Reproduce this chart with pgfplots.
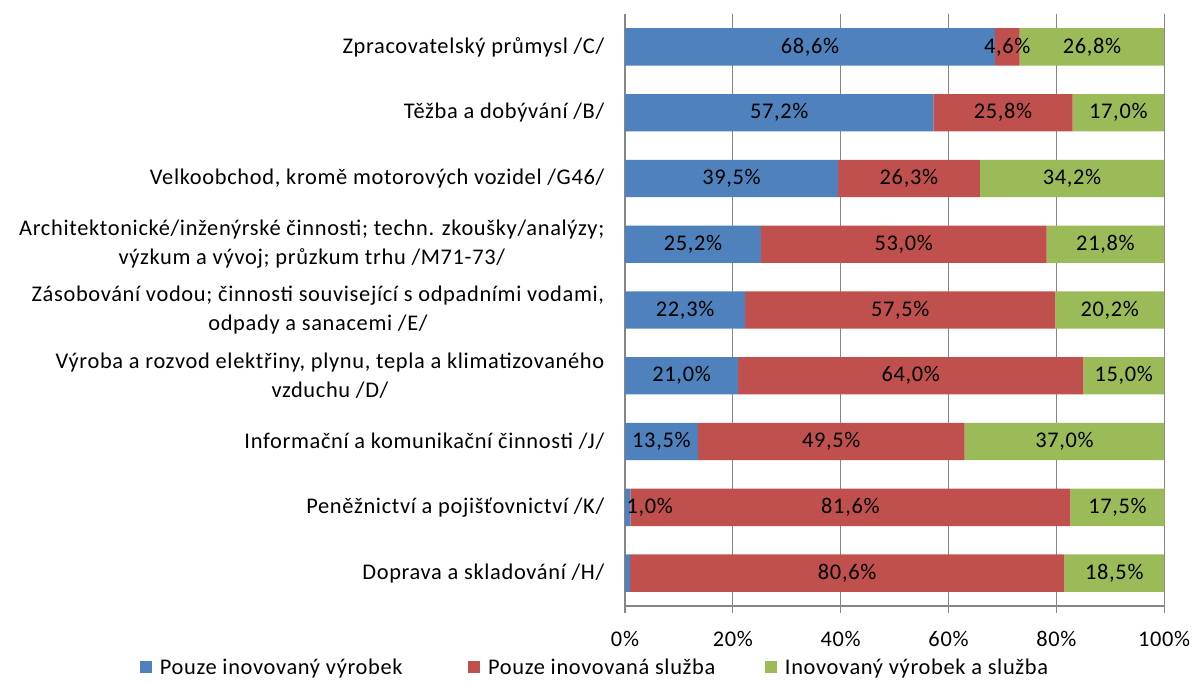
\documentclass[border=0pt]{standalone}
\usepackage{pgfplots}
\pgfplotsset{compat=1.18}
\usepackage{fontspec}
\setmainfont[LetterSpace=3]{Carlito}
\definecolor{cblue}{HTML}{4F81BD}
\definecolor{cred}{HTML}{C0504D}
\definecolor{cgreen}{HTML}{9BBB59}
\definecolor{cgrid}{HTML}{868686}
\newcommand{\chartfont}{\fontsize{16.8}{22}\selectfont}

\begin{document}
\begin{tikzpicture}
  % frame of the whole chart (1 px = 0.75 pt)
  \useasboundingbox (-468.75pt,-57pt) rectangle (429.75pt,454.5pt);
  \begin{axis}[
    scale only axis,
    width=405pt, height=444pt,
    xbar stacked,
    bar width=28pt,
    xmin=0, xmax=100.15,
    ymin=-0.5, ymax=8.5,
    y dir=reverse,
    ytick={0,...,8},
    yticklabels={
      {Zpracovatelský průmysl /C/},
      {Těžba a dobývání /B/},
      {Velkoobchod, kromě motorových vozidel /G46/},
      {Architektonické/inženýrské činnosti; techn. zkoušky/analýzy;\\výzkum a vývoj; průzkum trhu /M71-73/},
      {Zásobování vodou; činnosti související s odpadními vodami,\\odpady a sanacemi /E/},
      {Výroba a rozvod elektřiny, plynu, tepla a klimatizovaného\\vzduchu /D/},
      {Informační a komunikační činnosti /J/},
      {Peněžnictví a pojišťovnictví /K/},
      {Doprava a skladování /H/}},
    yticklabel style={align=center, font=\chartfont, xshift=-7pt},
    major y tick style={draw=none},
    xtick={0,20,...,100},
    xticklabels={0\%,20\%,40\%,60\%,80\%,100\%},
    xticklabel style={font=\chartfont, yshift=-10pt},
    x tick style={cgrid, line width=0.9pt},
    tick align=outside,
    major tick length=5pt,
    xmajorgrids,
    grid style={cgrid, line width=0.9pt},
    axis x line*=bottom,
    axis y line*=left,
    axis line style={cgrid, line width=1.5pt},
    x axis line style={-},
    y axis line style={-},
    nodes near coords,
    point meta=explicit symbolic,
    visualization depends on=rawx \as \rawx,
    every node near coord/.style={anchor=center, font=\chartfont, black},
    legend columns=3,
    legend style={at={(-0.055,-0.105)}, anchor=center, draw=none,
      font=\chartfont,
      /tikz/every odd column/.append style={column sep=4pt},
      /tikz/column 2/.append style={column sep=47pt},
      /tikz/column 4/.append style={column sep=35pt}},
    legend image code/.code={\fill[#1] (0cm,-0.13cm) rectangle (0.32cm,0.19cm);},
  ]
    \addplot[fill=cblue, draw=none,
      every node near coord/.append style={xshift={(\rawx==1)*16.5pt}}]
      coordinates {(68.6,0) [68,6\%] (57.2,1) [57,2\%] (39.5,2) [39,5\%]
        (25.2,3) [25,2\%] (22.3,4) [22,3\%] (21.0,5) [21,0\%]
        (13.5,6) [13,5\%] (1.0,7) [1,0\%] (0.9,8) []};
    \addplot[fill=cred, draw=none]
      coordinates {(4.6,0) [4,6\%] (25.8,1) [25,8\%] (26.3,2) [26,3\%]
        (53.0,3) [53,0\%] (57.5,4) [57,5\%] (64.0,5) [64,0\%]
        (49.5,6) [49,5\%] (81.6,7) [81,6\%] (80.6,8) [80,6\%]};
    \addplot[fill=cgreen, draw=none]
      coordinates {(26.8,0) [26,8\%] (17.0,1) [17,0\%] (34.2,2) [34,2\%]
        (21.8,3) [21,8\%] (20.2,4) [20,2\%] (15.0,5) [15,0\%]
        (37.0,6) [37,0\%] (17.5,7) [17,5\%] (18.5,8) [18,5\%]};
    \legend{Pouze inovovaný výrobek, Pouze inovovaná služba, Inovovaný výrobek a služba}
  \end{axis}
\end{tikzpicture}
\end{document}
